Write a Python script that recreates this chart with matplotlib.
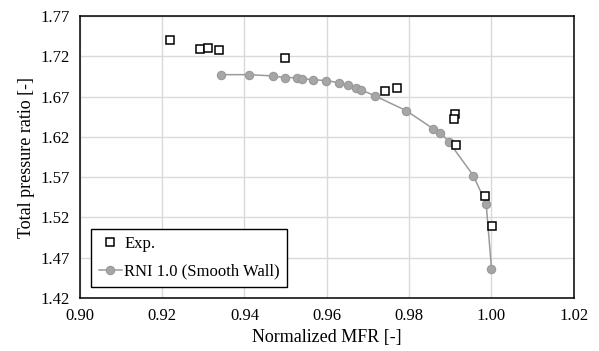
import matplotlib
matplotlib.use("Agg")
import matplotlib.pyplot as plt

# experimental data
exp_mfr = [0.9220, 0.9291, 0.9312, 0.9337, 0.9499, 0.9741, 0.9771,
           0.9912, 0.9909, 0.9914, 0.9985, 1.0001]
exp_pr = [1.7406, 1.7290, 1.7307, 1.7278, 1.7183, 1.6773, 1.6810,
          1.6488, 1.6422, 1.6103, 1.5470, 1.5098]

# RNI 1.0 (smooth wall) simulation
cfd_mfr = [0.9342, 0.9411, 0.9469, 0.9498, 0.9527, 0.9539, 0.9566, 0.9599,
           0.9629, 0.9651, 0.9670, 0.9684, 0.9716, 0.9793, 0.9858, 0.9876,
           0.9896, 0.9956, 0.9987, 1.0000]
cfd_pr = [1.6972, 1.6972, 1.6956, 1.6935, 1.6935, 1.6922, 1.6910, 1.6898,
          1.6873, 1.6840, 1.6810, 1.6782, 1.6711, 1.6525, 1.6302, 1.6253,
          1.6141, 1.5719, 1.5371, 1.4565]

xticks = [0.90, 0.92, 0.94, 0.96, 0.98, 1.00, 1.02]
yticks = [1.42, 1.47, 1.52, 1.57, 1.62, 1.67, 1.72, 1.77]

plt.rcParams['font.family'] = ['Liberation Serif', 'DejaVu Serif']
plt.rcParams['font.size'] = 12

fig = plt.figure(figsize=(5.99, 3.51), dpi=100)
ax = fig.add_axes([0.1332, 0.151, 0.8248, 0.8034])

ax.plot(exp_mfr, exp_pr, linestyle='none', marker='s', markersize=5.8,
        markerfacecolor='white', markeredgecolor='black', markeredgewidth=1.1,
        label='Exp.', zorder=4)
ax.plot(cfd_mfr, cfd_pr, color='#9a9a9a', linewidth=1.1, marker='o',
        markersize=6, markerfacecolor='#a6a6a6', markeredgecolor='#999999',
        markeredgewidth=0.8, label='RNI 1.0 (Smooth Wall)', zorder=3)

ax.set_xlim(0.90, 1.02)
ax.set_ylim(1.42, 1.77)
ax.set_xticks(xticks)
ax.set_yticks(yticks)
ax.set_xticklabels([f"{v:.2f}" for v in xticks])
ax.set_yticklabels([f"{v:.2f}" for v in yticks])
ax.tick_params(length=0, pad=7)
ax.grid(color='#d9d9d9', linewidth=1)
ax.set_axisbelow(True)
for s in ax.spines.values():
    s.set_color('black')
    s.set_linewidth(1.1)

ax.set_xlabel("Normalized MFR [-]", fontsize=13)
ax.set_ylabel("Total pressure ratio [-]", fontsize=13)

leg = ax.legend(loc='lower left', bbox_to_anchor=(0.0227, 0.038), borderaxespad=0,
                fancybox=False, framealpha=1, edgecolor='black', handlelength=1.4,
                borderpad=0.45, labelspacing=0.7, handletextpad=0.15)
leg.get_frame().set_linewidth(1.0)

fig.savefig("out.png", dpi=100)
